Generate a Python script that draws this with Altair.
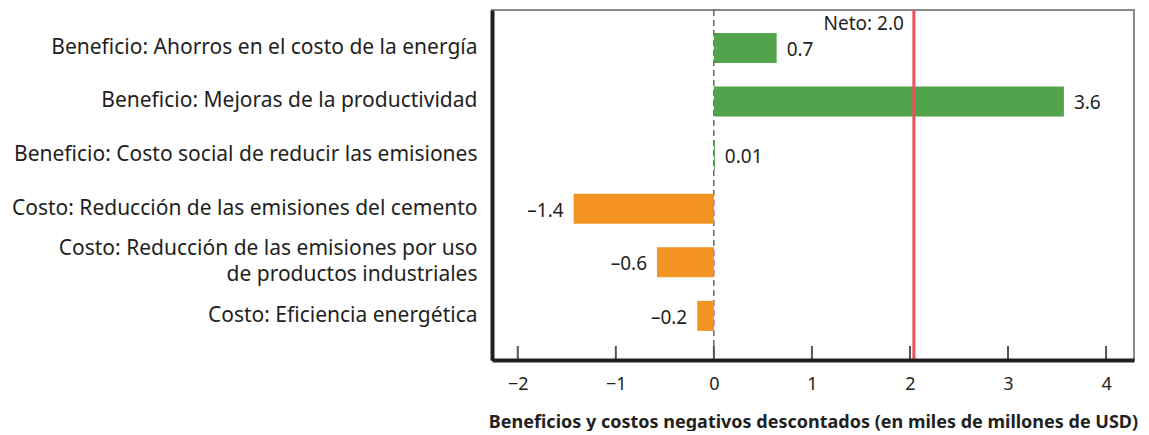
import altair as alt
import pandas as pd

categories = [
    "Beneficio: Ahorros en el costo de la energía",
    "Beneficio: Mejoras de la productividad",
    "Beneficio: Costo social de reducir las emisiones",
    "Costo: Reducción de las emisiones del cemento",
    "Costo: Reducción de las emisiones por uso|de productos industriales",
    "Costo: Eficiencia energética",
]
values = [0.64, 3.57, 0.01, -1.43, -0.58, -0.17]
value_labels = ["0.7", "3.6", "0.01", "–1.4", "–0.6", "–0.2"]
kinds = ["Beneficio", "Beneficio", "Beneficio", "Costo", "Costo", "Costo"]
net_value = 2.04
net_label = "Neto: 2.0"
tick_values = [-2, -1, 0, 1, 2, 3, 4]

W, H = 642, 350
FONT = "Noto Sans"
TXT = "#231f20"

df = pd.DataFrame({"cat": categories, "val": values, "lab": value_labels, "kind": kinds})

xscale = alt.Scale(domain=[-2.263, 4.285], nice=False, zero=False)
yscale = alt.Scale(domain=categories, paddingInner=0.44, paddingOuter=0.485, align=0.44)

xaxis = alt.Axis(
    values=tick_values, format="d", ticks=False, grid=False,
    domainColor="#231f20", domainWidth=4,
    labelFont=FONT, labelFontSize=18, labelColor=TXT, labelPadding=15,
    title="Beneficios y costos negativos descontados (en miles de millones de USD)",
    titleFont=FONT, titleFontSize=18, titleFontWeight="bold", titleColor=TXT,
    titlePadding=20, zindex=2,
)
yaxis = alt.Axis(
    title=None, ticks=False, grid=False,
    domainColor="#231f20", domainWidth=4,
    labelFont=FONT, labelFontSize=21, labelColor=TXT, labelPadding=15,
    labelLimit=700, labelLineHeight=26,
    labelExpr="split(datum.label, '|')",
    labelOffset=alt.expr("indexof(datum.value, '|') >= 0 ? -13 : 0"),
    zindex=2,
)

base = alt.Chart(df)

bars = base.mark_bar().encode(
    x=alt.X("val:Q", scale=xscale, axis=xaxis),
    y=alt.Y("cat:N", scale=yscale, sort=categories, axis=yaxis),
    color=alt.Color("kind:N", scale=alt.Scale(domain=["Beneficio", "Costo"],
                                              range=["#52a44c", "#f39422"]), legend=None),
)

pos_text = base.transform_filter("datum.val >= 0").mark_text(
    align="left", dx=10, dy=2, font=FONT, fontSize=19, color=TXT, baseline="middle"
).encode(
    x=alt.X("val:Q", scale=xscale),
    y=alt.Y("cat:N", scale=yscale, sort=categories),
    text="lab:N",
)
neg_text = base.transform_filter("datum.val < 0").mark_text(
    align="right", dx=-10, dy=2, font=FONT, fontSize=19, color=TXT, baseline="middle"
).encode(
    x=alt.X("val:Q", scale=xscale),
    y=alt.Y("cat:N", scale=yscale, sort=categories),
    text="lab:N",
)

zero_df = pd.DataFrame({"x": [0]})
zero_line = alt.Chart(zero_df).mark_rule(color="#231f20", strokeWidth=1, strokeDash=[6, 4]).encode(
    x=alt.X("x:Q", scale=xscale)
)

ticks_df = pd.DataFrame({"t": tick_values})
ticks = alt.Chart(ticks_df).mark_rule(color="#555555", strokeWidth=2).encode(
    x=alt.X("t:Q", scale=xscale),
    y=alt.value(H - 14),
    y2=alt.value(H),
)

net_df = pd.DataFrame({"x": [net_value], "lab": [net_label]})
net_line = alt.Chart(net_df).mark_rule(color="#e8535b", strokeWidth=3).encode(
    x=alt.X("x:Q", scale=xscale)
)
net_text = alt.Chart(net_df).mark_text(
    align="right", dx=-10, baseline="middle", font=FONT, fontSize=19, color=TXT
).encode(
    x=alt.X("x:Q", scale=xscale),
    y=alt.value(14),
    text="lab:N",
)

chart = alt.layer(zero_line, bars, net_line, ticks, pos_text, neg_text, net_text).properties(
    width=W, height=H,
    padding={"left": 3, "top": 0, "right": 2, "bottom": 0},
).configure_view(
    stroke="#8a8a8a", strokeWidth=2
)

chart.save("out.html", embed_options={"renderer": "svg", "actions": False})
